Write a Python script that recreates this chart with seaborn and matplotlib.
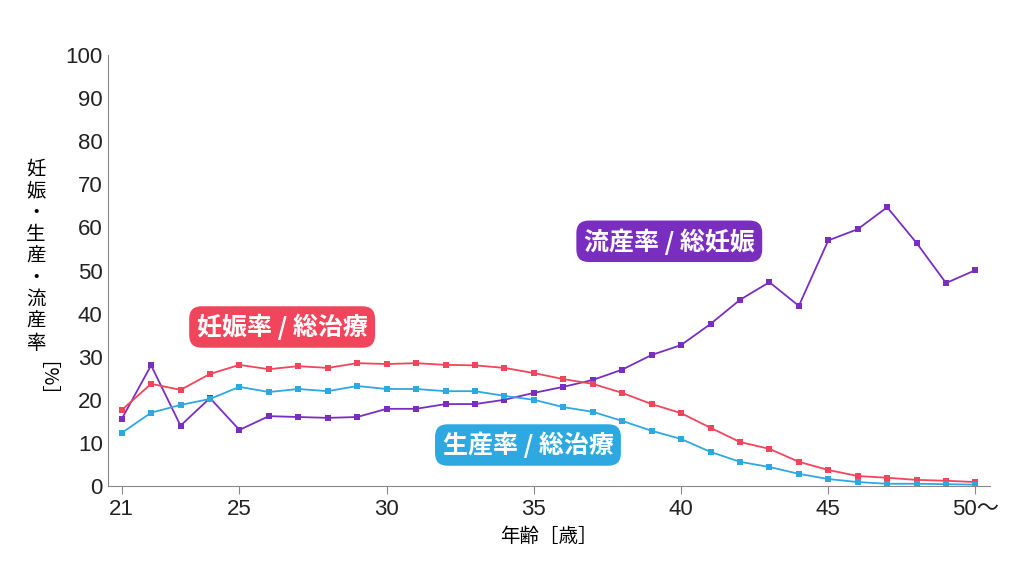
import matplotlib
matplotlib.use("Agg")
import matplotlib.pyplot as plt
import seaborn as sns
import pandas as pd

ages = list(range(21, 51))
miscarriage = [15.5,28,14,20.4,13,16.2,16,15.8,16,17.9,17.9,19,19,20,21.6,23,24.6,27,30.4,32.7,37.6,43.2,47.3,41.8,57,59.6,64.7,56.4,47.1,50.1]
pregnancy = [17.6,23.7,22.3,26,28.1,27.1,27.8,27.4,28.5,28.3,28.5,28.1,28,27.4,26.2,24.8,23.7,21.6,19,16.9,13.5,10.2,8.6,5.6,3.7,2.3,1.9,1.4,1.2,0.9]
birth = [12.3,17,18.8,20.2,23,21.8,22.5,22,23.2,22.5,22.5,22,22,20.9,20,18.3,17.2,15.1,12.8,10.9,7.9,5.6,4.4,2.8,1.6,0.9,0.5,0.5,0.4,0.3]
xticks = [21,25,30,35,40,45,50]
xticklabels = ["21","25","30","35","40","45","50～"]

FONT = "Noto Sans CJK JP"
plt.rcParams["font.family"] = ["Liberation Sans", FONT]
fig = plt.figure(figsize=(10.24,5.69), dpi=100)
ax = fig.add_axes([0.105,0.146,0.862,0.757])

df = pd.DataFrame({"age":ages,"流産率":miscarriage,"妊娠率":pregnancy,"生産率":birth})
cols = {"流産率":"#7a2ec0","妊娠率":"#f0455b","生産率":"#2ea8e0"}
for k,c in cols.items():
    sns.lineplot(data=df, x="age", y=k, ax=ax, color=c, lw=1.3, marker="s", markersize=4.5, markeredgewidth=0)

ax.set_xlim(20.52,50.5); ax.set_ylim(0,100)
ax.set_yticks(range(0,101,10))
ax.set_xticks(xticks); ax.set_xticklabels(xticklabels)
ax.tick_params(labelsize=16, colors="#222", length=0)
ax.tick_params(axis="x", length=6, color="#888", direction="out")
for s in ["top","right"]: ax.spines[s].set_visible(False)
for s in ["left","bottom"]: ax.spines[s].set_color("#888")
ax.set_xlabel("年齢［歳］", fontsize=14, labelpad=4, family=FONT)
ax.set_ylabel("")

fig.text(0.035,0.55,"\n".join("妊娠・生産・流産率"),fontsize=14,ha="center",va="center",linespacing=1.05,family=FONT)
fig.text(0.035,0.315,"［%］",fontsize=14,ha="center",va="center",rotation=270,family=FONT)

def box(x,y,t,c):
    ax.text(x,y,t,fontsize=18,color="white",fontweight="bold",ha="center",va="center",family=FONT,
            bbox=dict(boxstyle="round,pad=0.3,rounding_size=0.5",fc=c,ec="none"))
box(26.45,36.9,"妊娠率 / 総治療","#f0455b")
box(39.6,56.8,"流産率 / 総妊娠","#7a2ec0")
box(34.8,9.5,"生産率 / 総治療","#2ea8e0")
fig.savefig("out.png", dpi=100)
